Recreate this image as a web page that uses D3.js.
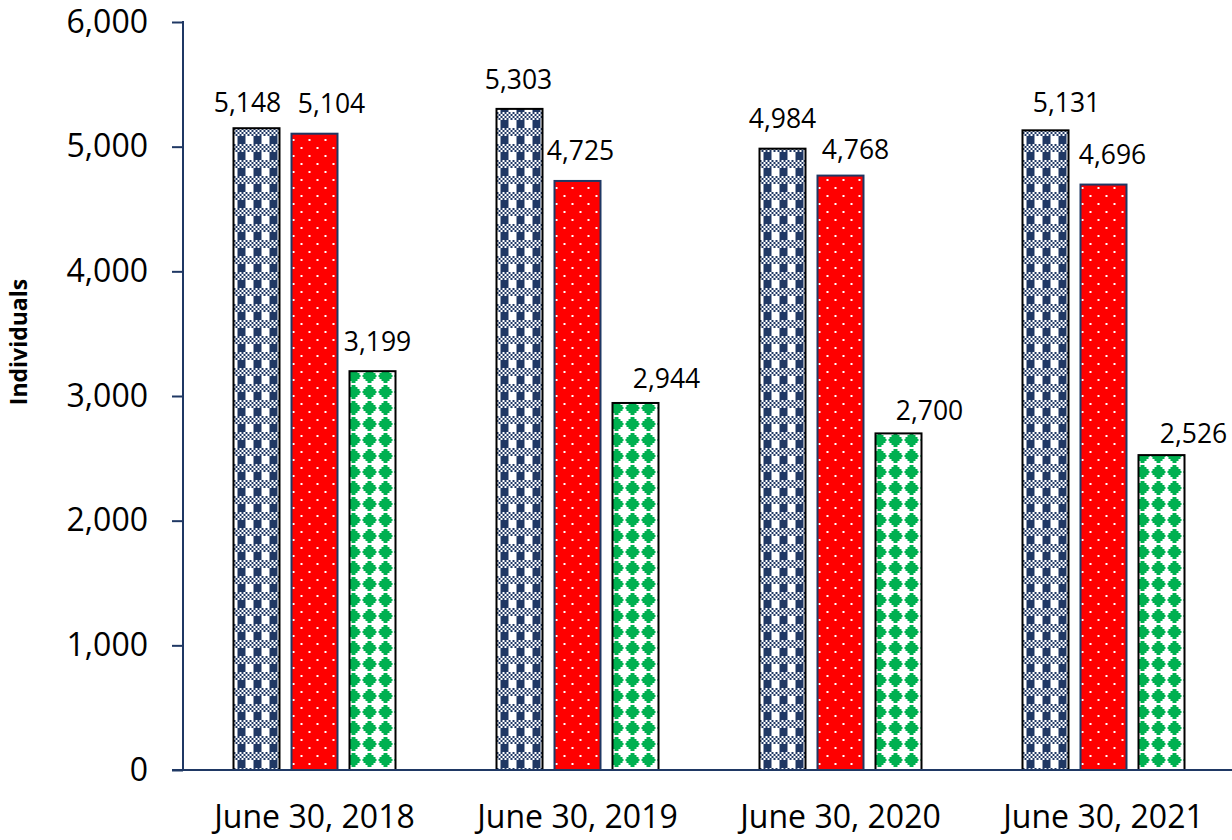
<!DOCTYPE html>
<html>
<head>
<meta charset="utf-8">
<script src="https://cdn.jsdelivr.net/npm/d3@7"></script>
<style>
  body { margin: 0; background: #fff; }
  text { font-family: "Open Sans", sans-serif; fill: #000; }
</style>
</head>
<body>
<svg id="chart" width="1232" height="840"></svg>
<script>
// data
var categories = ["June 30, 2018", "June 30, 2019", "June 30, 2020", "June 30, 2021"];
var seriesNames = ["navy", "red", "green"];
var navyValues  = [5148, 5303, 4984, 5131];
var redValues   = [5104, 4725, 4768, 4696];
var greenValues = [3199, 2944, 2700, 2526];
var yTicks = [0, 1000, 2000, 3000, 4000, 5000, 6000];

// label nudges (the source chart has hand-placed labels)
var labelDx  = [[-9, 17, 5], [-1, 3, 31], [0, 15, 31], [21, 9, 32]];
var labelGap = [[16, 21, 20], [20, 21, 15], [21, 17, 13], [18, 21, 12]];

var svg = d3.select("#chart");
var axisColor = "#1f3864";

// ---- patterns ----
var defs = svg.append("defs");

var pNavy = defs.append("pattern").attr("id", "pNavy")
    .attr("patternUnits", "userSpaceOnUse").attr("width", 16).attr("height", 16);
pNavy.append("rect").attr("width", 16).attr("height", 16).attr("fill", "#fff");
pNavy.append("rect").attr("x", 4).attr("y", 8).attr("width", 8).attr("height", 8).attr("fill", "#203864");
for (var cx = 0; cx < 16; cx += 2) {
  for (var cy = 0; cy < 8; cy += 2) {
    if (((cx + cy) / 2) % 2 == 0)
      pNavy.append("rect").attr("x", cx).attr("y", cy).attr("width", 2).attr("height", 2).attr("fill", "#203864");
  }
}

var pRed = defs.append("pattern").attr("id", "pRed")
    .attr("patternUnits", "userSpaceOnUse").attr("width", 16).attr("height", 16);
pRed.append("rect").attr("width", 16).attr("height", 16).attr("fill", "#ff0000");
pRed.append("rect").attr("x", 3).attr("y", 3).attr("width", 2).attr("height", 2).attr("fill", "#fff");
pRed.append("rect").attr("x", 11).attr("y", 11).attr("width", 2).attr("height", 2).attr("fill", "#fff");

var pGreen = defs.append("pattern").attr("id", "pGreen")
    .attr("patternUnits", "userSpaceOnUse").attr("width", 16).attr("height", 16);
pGreen.append("rect").attr("width", 16).attr("height", 16).attr("fill", "#fff");
// stepped diamond
[[6, 1, 4, 2], [4, 3, 8, 2], [2, 5, 12, 6], [4, 11, 8, 2], [6, 13, 4, 2], [1, 7, 14, 2]].forEach(function(r) {
  pGreen.append("rect").attr("x", r[0]).attr("y", r[1]).attr("width", r[2]).attr("height", r[3]).attr("fill", "#00b050");
});

var fills   = {navy: "url(#pNavy)", red: "url(#pRed)", green: "url(#pGreen)"};
var strokes = {navy: "#000", red: "#1f3864", green: "#000"};

// ---- scales ----
var x0 = d3.scaleBand().domain(categories).range([183, 1235]);
var groupW = 162;
var x1 = d3.scaleBand().domain(seriesNames).range([0, groupW]).paddingInner(12 / 58);
var y = d3.scaleLinear().domain([0, 6000]).range([770, 22]);

var data = categories.map(function(c, i) {
  return {cat: c, i: i, vals: [
    {key: "navy", v: navyValues[i]},
    {key: "red", v: redValues[i]},
    {key: "green", v: greenValues[i]}
  ]};
});

// ---- bars ----
var groups = svg.append("g").selectAll("g")
  .data(data)
  .enter().append("g")
    .attr("transform", function(d) { return "translate(" + (x0(d.cat) + (x0.bandwidth() - groupW) / 2) + ",0)"; });

groups.selectAll("rect")
  .data(function(d) { return d.vals; })
  .enter().append("rect")
    .attr("x", function(d) { return x1(d.key); })
    .attr("y", function(d) { return y(d.v); })
    .attr("width", x1.bandwidth())
    .attr("height", function(d) { return y(0) - y(d.v); })
    .attr("fill", function(d) { return fills[d.key]; })
    .attr("stroke", function(d) { return strokes[d.key]; })
    .attr("stroke-width", 2);

groups.selectAll("text")
  .data(function(d) { return d.vals.map(function(e, s) { return {v: e.v, key: e.key, g: d.i, s: s}; }); })
  .enter().append("text")
    .attr("x", function(d) { return x1(d.key) + x1.bandwidth() / 2 + labelDx[d.g][d.s]; })
    .attr("y", function(d) { return y(d.v) - labelGap[d.g][d.s]; })
    .attr("text-anchor", "middle")
    .style("font-size", "26.5px")
    .text(function(d) { return d3.format(",")(d.v); });

// ---- axes ----
var yAxis = svg.append("g")
    .attr("transform", "translate(183,0)")
    .call(d3.axisLeft(y).tickValues(yTicks).tickFormat(d3.format(",")).tickSize(11).tickPadding(24).tickSizeOuter(0));
yAxis.selectAll("path, line").attr("stroke", axisColor).attr("stroke-width", 2);
yAxis.selectAll("text").style("font-size", "32px").attr("fill", "#000");
yAxis.select(".domain").remove();
svg.append("line")
    .attr("x1", 183).attr("x2", 183).attr("y1", y(6000) - 1).attr("y2", y(0))
    .attr("stroke", axisColor).attr("stroke-width", 2);

var xAxis = svg.append("g")
    .attr("transform", "translate(0,770)")
    .call(d3.axisBottom(x0).tickSize(0).tickPadding(35));
xAxis.select(".domain").remove();
xAxis.selectAll("text").style("font-size", "32px").attr("fill", "#000");
svg.append("line")
    .attr("x1", 172).attr("x2", 1232).attr("y1", y(0)).attr("y2", y(0))
    .attr("stroke", axisColor).attr("stroke-width", 2);

svg.append("text")
    .attr("transform", "translate(27,342) rotate(-90)")
    .attr("text-anchor", "middle")
    .style("font-size", "23px")
    .style("font-weight", "bold")
    .text("Individuals");
</script>
</body>
</html>
